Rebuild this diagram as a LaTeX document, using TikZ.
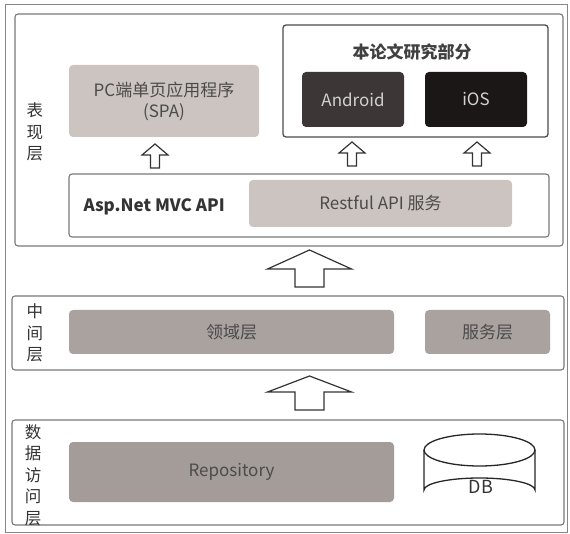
\documentclass[tikz,border=0pt]{standalone}
\usepackage{fontspec}
\setmainfont{Noto Sans CJK SC}
\usepackage{tikz}
\usetikzlibrary{arrows.meta, positioning, calc}
\definecolor{framegray}{RGB}{135, 135, 135}
\definecolor{boxgray}{RGB}{120, 120, 120}
\definecolor{lightfill}{RGB}{204, 196, 192}
\definecolor{midfill}{RGB}{170, 162, 159}
\definecolor{darkfill}{RGB}{164, 156, 153}
\definecolor{androidfill}{RGB}{60, 54, 54}
\definecolor{iosfill}{RGB}{28, 23, 23}
\definecolor{textgray}{RGB}{75, 75, 75}

\begin{document}
\begin{tikzpicture}[
			x=1pt, y=-1pt,
			layerbox/.style={rectangle, draw=boxgray, line width=1.1pt, rounded corners=3pt, inner sep=0pt},
			component/.style={rectangle, rounded corners=4pt, inner sep=0pt, align=center, text=textgray, font=\fontsize{17}{21}\selectfont},
			mobile/.style={rectangle, rounded corners=4pt, inner sep=0pt, minimum width=102pt, minimum height=55pt, text=white!82!black, font=\fontsize{17}{21}\selectfont},
			layerlabel/.style={align=center, text=black!80, font=\fontsize{16.5}{21.5}\selectfont},
			blockarrow/.style={draw=black!80, fill=white, line width=1.2pt, line join=miter}
		]
		\useasboundingbox (0,0) rectangle (570,534);
		\draw[framegray, line width=1pt] (5,5) rectangle (567,532);
		
		% Presentation layer
		\node[layerbox, minimum width=548pt, minimum height=232pt] (pres) at (289,130) {};
		\node[layerlabel] (preslabel) at (35,132) {表\\现\\层};
		\node[component, fill=lightfill, minimum width=190pt, minimum height=72pt] (spa) at (164,101) {PC端单页应用程序\\(SPA)};
		\node[layerbox, draw=black!70, line width=1.3pt, minimum width=265pt, minimum height=112pt] (research) at (415.5,81) {};
		\node[font=\fontsize{17}{20}\selectfont\bfseries, text=black!75] (researchtitle) at (412,52) {本论文研究部分};
		\node[mobile, fill=androidfill] (android) at (353,99.5) {Android};
		\node[mobile, fill=iosfill] (ios) at (476,99.5) {iOS};
		\node[layerbox, minimum width=480pt, minimum height=63pt] (api) at (309,205.5) {};
		\node[anchor=west, font=\fontsize{17}{20}\selectfont\bfseries, text=black!80] (apilabel) at (80,207) {Asp.Net MVC API};
		\node[component, fill=lightfill, minimum width=263pt, minimum height=47pt] (restful) at (380.5,203.5) {Restful API 服务};
		
		% small arrows, tips at the top
		\coordinate (tipspa) at (155,144);
		\coordinate (tipandroid) at (352,142);
		\coordinate (tipios) at (477,142);
		\foreach \t in {tipspa, tipandroid, tipios}
			\draw[blockarrow] (\t) -- ++(13,11) -- ++(-8.5,0) -- ++(0,13) -- ++(-9,0) -- ++(0,-13) -- ++(-8.5,0) -- cycle;
		
		% Middle layer
		\coordinate (tipmid) at (309.5,250);
		\draw[blockarrow] (tipmid) -- ++(42,19) -- ++(-27.5,0) -- ++(0,18) -- ++(-29,0) -- ++(0,-18) -- ++(-27.5,0) -- cycle;
		\node[layerbox, minimum width=552pt, minimum height=74pt] (mid) at (288,333) {};
		\node[layerlabel] (midlabel) at (35,333) {中\\间\\层};
		\node[component, fill=midfill, minimum width=325pt, minimum height=44pt] (domain) at (231.5,332) {领域层};
		\node[component, fill=midfill, minimum width=125pt, minimum height=44pt] (service) at (487.5,332) {服务层};
		
		% Data access layer
		\coordinate (tipdata) at (309.5,376);
		\draw[blockarrow] (tipdata) -- ++(42,16) -- ++(-27.5,0) -- ++(0,18) -- ++(-29,0) -- ++(0,-18) -- ++(-27.5,0) -- cycle;
		\node[layerbox, minimum width=552pt, minimum height=105pt] (data) at (288,472.5) {};
		\node[layerlabel] (datalabel) at (33,475) {数\\据\\访\\问\\层};
		\node[component, fill=darkfill, minimum width=325pt, minimum height=60pt] (repo) at (231.5,472) {Repository};
		\draw[black!85, line width=1.3pt, fill=white] (424,450) -- (424,490) arc[start angle=180, end angle=360, x radius=55.5, y radius=12] -- (535,450);
		\draw[black!85, line width=1.3pt, fill=white] (479.5,450) ellipse[x radius=55.5, y radius=16];
		\node[font=\fontsize{18}{21}\selectfont, text=black!80] (db) at (481,487) {DB};
		\end{tikzpicture}
\end{document}
